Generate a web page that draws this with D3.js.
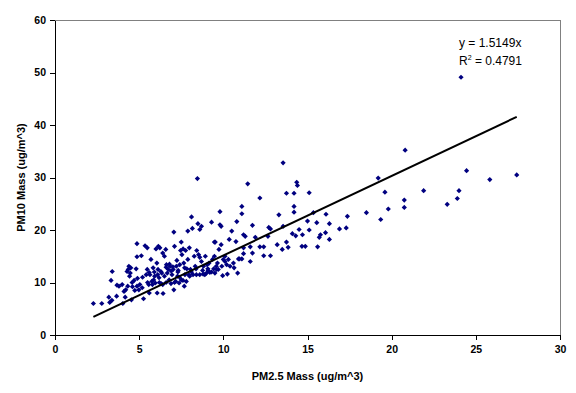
<!DOCTYPE html>
<html>
<head>
<meta charset="utf-8">
<script src="https://cdn.jsdelivr.net/npm/d3@7"></script>
<style>
  html, body { margin: 0; padding: 0; background: #fff; }
  svg { display: block; }
  text { font-family: "Liberation Sans", Arial, sans-serif; }
</style>
</head>
<body>
<svg id="chart" width="576" height="393"></svg>
<script>
// ---- data ----
const pm25 = [
  24.12, 20.8, 13.55, 19.2, 24.45, 27.43, 25.83, 24.0, 23.9, 23.3, 21.9, 20.75, 20.75, 19.6, 19.8, 19.35,
  18.5, 17.37, 17.3, 16.9, 16.3, 16.3, 16.1, 16.07, 15.77, 15.7, 15.6, 15.55, 15.35, 15.0, 15.1, 15.1,
  14.87, 14.67, 14.7, 14.5, 14.3, 14.36, 14.4, 14.2, 14.2, 14.2, 14.1, 13.75, 13.75, 13.85, 13.55, 13.5,
  13.3, 13.2, 12.8, 12.7, 12.8, 12.65, 12.4, 12.4, 12.17, 12.17, 11.9, 11.73, 11.73, 11.45, 11.6, 11.6,
  11.1, 11.1, 11.2, 11.3, 11.2, 11.2, 11.1, 10.96, 10.8, 10.75, 10.85, 10.5, 10.35, 10.6, 10.64, 10.24,
  9.87, 9.8, 9.8, 9.74, 9.87, 9.96, 9.47, 9.3,
  2.28, 2.78, 3.2, 3.25, 3.38, 3.33, 3.4, 3.66, 3.68, 3.8, 3.99, 4.03, 4.17, 4.1, 4.2, 4.28,
  4.39, 4.35, 4.32, 4.43, 4.47, 4.54, 4.58, 4.6, 4.7, 4.74, 4.82, 4.87, 4.87, 4.87, 4.98, 5.04,
  5.13, 5.18, 5.26, 5.35, 5.48, 5.42, 5.48, 5.57, 5.6, 5.64, 5.7, 5.75, 5.79, 5.83, 5.86, 5.92,
  5.96, 6.0, 6.05, 6.07, 6.12, 6.14, 6.18, 6.23, 6.29, 6.34, 6.4, 6.42, 6.5, 6.5, 6.58, 6.62,
  6.67, 6.73, 6.78, 6.84, 6.89, 6.95, 7.02, 7.06, 7.06, 7.1, 7.17, 7.21, 7.24, 7.28, 7.32, 7.37,
  7.41, 7.46, 7.5, 7.5, 7.54, 7.61, 7.65, 7.68, 7.72, 7.76, 7.83, 7.89, 7.89, 7.94, 7.98, 8.05,
  8.11, 8.16, 8.2, 8.27, 8.33, 8.38, 8.42, 8.46, 8.49, 8.53, 8.6, 8.6, 8.7, 8.7, 8.77, 8.82,
  8.93, 9.0, 9.04, 9.08, 9.15, 9.2, 9.36, 9.43, 9.47, 9.52, 9.58, 9.65, 9.7, 9.91, 10.0, 10.1,
  10.2, 10.3, 10.4, 10.9,
  6.3, 6.6, 6.9, 7.0, 7.4, 5.9, 6.1, 6.6, 7.1, 7.8, 8.0, 8.4, 8.9, 9.3, 9.5, 5.5,
  5.2, 6.2, 6.8, 7.3, 7.7, 8.1, 8.6, 9.1, 9.6, 10.1, 4.5, 4.9, 5.6, 6.4, 7.6, 8.8
];
const pm10 = [
  49.1, 35.2, 32.8, 29.9, 31.3, 30.5, 29.6, 27.5, 26.0, 24.9, 27.5, 25.7, 24.3, 27.2, 24.0, 22.0,
  23.3, 22.6, 20.4, 20.2, 18.2, 21.2, 23.0, 19.5, 19.1, 18.6, 16.8, 21.4, 23.3, 21.7, 27.1, 20.0,
  16.9, 16.9, 19.1, 20.1, 18.9, 29.1, 28.5, 27.0, 24.5, 23.4, 19.3, 27.0, 17.7, 16.7, 20.7, 16.3,
  22.9, 17.2, 20.2, 20.5, 15.1, 18.8, 16.8, 15.1, 26.1, 16.8, 18.6, 20.9, 15.6, 28.8, 16.8, 14.0,
  24.5, 23.1, 19.1, 18.8, 16.6, 15.5, 14.5, 14.5, 21.6, 17.8, 11.8, 19.8, 18.2, 13.7, 12.8, 11.6,
  20.7, 21.0, 23.5, 16.3, 17.2, 11.3, 17.7, 21.5,
  6.0, 6.0, 7.2, 6.2, 6.6, 10.4, 12.1, 7.4, 9.5, 9.3, 9.6, 6.0, 7.2, 8.3, 8.6, 12.1,
  13.1, 12.5, 9.3, 11.2, 11.8, 6.7, 10.0, 9.2, 10.4, 8.5, 12.6, 17.4, 14.9, 9.3, 8.6, 9.6,
  15.1, 9.0, 6.9, 17.0, 16.6, 11.5, 12.5, 9.6, 8.0, 11.5, 14.4, 10.2, 9.6, 12.8, 10.5, 11.2,
  9.9, 16.4, 13.7, 8.0, 12.5, 16.9, 10.9, 16.6, 12.1, 11.8, 15.6, 7.9, 11.2, 15.0, 16.3, 13.4,
  11.8, 12.5, 10.5, 13.1, 9.8, 11.5, 12.5, 19.6, 8.6, 16.9, 10.2, 13.1, 14.2, 11.2, 12.3, 9.9,
  13.4, 16.1, 17.7, 10.5, 15.3, 16.4, 13.7, 9.3, 11.5, 16.1, 12.6, 14.4, 19.8, 11.5, 16.6, 12.5,
  22.5, 20.3, 11.5, 15.0, 13.1, 12.6, 16.1, 29.8, 21.2, 15.3, 20.1, 11.5, 20.7, 14.0, 12.3, 13.1,
  15.0, 11.8, 13.4, 12.6, 13.7, 11.9, 14.4, 12.6, 15.0, 17.7, 13.1, 13.7, 12.5, 13.1, 14.4, 15.0,
  13.4, 14.4, 13.1, 14.5,
  9.8, 10.0, 12.2, 13.0, 11.0, 12.0, 11.5, 12.9, 10.0, 10.2, 11.2, 11.5, 11.5, 12.0, 11.8, 10.0,
  11.0, 10.0, 13.5, 12.0, 12.8, 12.0, 14.8, 12.3, 12.5, 14.0, 12.8, 10.8, 11.9, 9.6, 10.4, 11.6
];
const slope = 1.5149;
const fitRange = [2.28, 27.43];
const xTicks = [0, 5, 10, 15, 20, 25, 30];
const yTicks = [0, 10, 20, 30, 40, 50, 60];
const xTitle = "PM2.5 Mass (ug/m^3)";
const yTitle = "PM10 Mass (ug/m^3)";
const eqLine1 = "y = 1.5149x";
const eqR2 = "0.4791";

// ---- chart ----
const svg = d3.select("#chart");
const pL = 55, pR = 560, pT = 20, pB = 335;
const x = d3.scaleLinear().domain([0, 30]).range([pL, pR]);
const y = d3.scaleLinear().domain([0, 60]).range([pB, pT]);

// plot frame (top/right gray)
svg.append("path")
  .attr("d", `M${pL},${pT}H${pR}V${pB}`)
  .attr("fill", "none").attr("stroke", "#808080").attr("stroke-width", 1)
  .attr("shape-rendering", "crispEdges");

const xAxis = svg.append("g")
  .attr("transform", `translate(0,${pB})`)
  .call(d3.axisBottom(x).tickValues(xTicks).tickSize(5).tickSizeOuter(0).tickPadding(6));
const yAxis = svg.append("g")
  .attr("transform", `translate(${pL},0)`)
  .call(d3.axisLeft(y).tickValues(yTicks).tickSize(5).tickSizeOuter(0).tickPadding(4));
[xAxis, yAxis].forEach(g => {
  g.selectAll("path, line").attr("stroke", "#000").attr("shape-rendering", "crispEdges");
  g.selectAll("text").attr("font-family", "Liberation Sans, Arial, sans-serif")
    .attr("font-size", 10.5).attr("font-weight", "bold").attr("fill", "#000");
});

// points
const pts = pm25.map((v, i) => [v, pm10[i]]);
svg.append("g").selectAll("path").data(pts).enter().append("path")
  .attr("d", "M0,-2.6L2.6,0L0,2.6L-2.6,0Z")
  .attr("transform", d => `translate(${x(d[0])},${y(d[1])})`)
  .attr("fill", "#000080");

// trend line
svg.append("line")
  .attr("x1", x(fitRange[0])).attr("y1", y(slope * fitRange[0]))
  .attr("x2", x(fitRange[1])).attr("y2", y(slope * fitRange[1]))
  .attr("stroke", "#000").attr("stroke-width", 2);

// equation
svg.append("text").attr("x", 459).attr("y", 47).attr("font-size", 12).attr("fill", "#000").text(eqLine1);
const r2 = svg.append("text").attr("x", 459).attr("y", 65).attr("font-size", 12).attr("fill", "#000");
r2.append("tspan").text("R");
r2.append("tspan").attr("font-size", 7).attr("dy", -5).text("2");
r2.append("tspan").attr("dy", 5).text(" = " + eqR2);

// axis titles
svg.append("text").attr("x", (pL + pR) / 2).attr("y", 380)
  .attr("text-anchor", "middle").attr("font-size", 11).attr("font-weight", "bold").text(xTitle);
svg.append("text").attr("transform", `translate(25,${(pT + pB) / 2}) rotate(-90)`)
  .attr("text-anchor", "middle").attr("font-size", 11).attr("font-weight", "bold").text(yTitle);
</script>
</body>
</html>
